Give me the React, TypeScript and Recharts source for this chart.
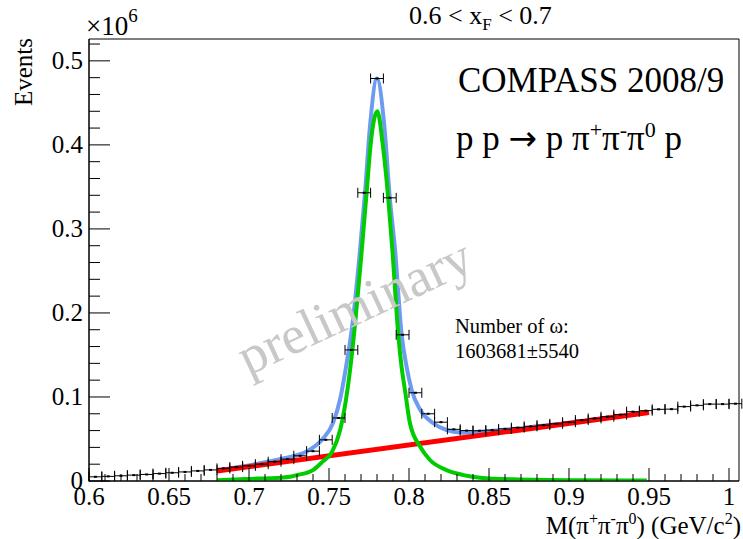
import React from 'react';
import { ComposedChart, XAxis, YAxis, Line, Scatter, ErrorBar, ReferenceArea } from 'recharts';

// Histogram: bin centres (GeV/c^2) and events (in units of 10^6)
const binCenters = [
  0.604, 0.612, 0.620, 0.628, 0.636, 0.644, 0.652, 0.660, 0.668, 0.676,
  0.684, 0.692, 0.700, 0.708, 0.716, 0.724, 0.732, 0.740, 0.748, 0.756,
  0.764, 0.772, 0.780, 0.788, 0.796, 0.804, 0.812, 0.820, 0.828, 0.836,
  0.844, 0.852, 0.860, 0.868, 0.876, 0.884, 0.892, 0.900, 0.908, 0.916,
  0.924, 0.932, 0.940, 0.948, 0.956, 0.964, 0.972, 0.980, 0.988, 0.996,
  1.004,
];
const eventCounts = [
  0.0050, 0.0055, 0.0062, 0.0070, 0.0078, 0.0088, 0.0098, 0.0108, 0.0120, 0.0132,
  0.0150, 0.0165, 0.0180, 0.0200, 0.0230, 0.0260, 0.0300, 0.0355, 0.0490, 0.0750,
  0.1560, 0.3430, 0.4790, 0.3370, 0.1740, 0.1050, 0.0800, 0.0700, 0.0615, 0.0600,
  0.0598, 0.0605, 0.0620, 0.0635, 0.0650, 0.0665, 0.0680, 0.0700, 0.0725, 0.0745,
  0.0765, 0.0790, 0.0825, 0.0837, 0.0853, 0.0855, 0.0885, 0.0900, 0.0915, 0.0915,
  0.0920,
];
const binHalfWidth = 0.004;

// Total fit (blue)
const totalFitX = [
  0.680, 0.698, 0.7194, 0.7256, 0.736, 0.746, 0.7525, 0.7569, 0.761, 0.7642,
  0.7694, 0.7725, 0.7756, 0.780, 0.7846, 0.788, 0.7913, 0.7954, 0.7986, 0.8017,
  0.8069, 0.8152, 0.8235, 0.834, 0.8444, 0.8631, 0.8819, 0.8985, 0.925, 0.950,
];
const totalFitY = [
  0.013, 0.018, 0.026, 0.0286, 0.035, 0.050, 0.069, 0.097, 0.140, 0.180,
  0.275, 0.343, 0.422, 0.479, 0.422, 0.337, 0.275, 0.174, 0.135, 0.108,
  0.085, 0.0687, 0.0607, 0.0575, 0.0587, 0.0615, 0.0655, 0.0687, 0.0755, 0.0820,
];

// Signal fit (green)
const signalFitX = [
  0.680, 0.698, 0.720, 0.7256, 0.730, 0.740, 0.746, 0.752, 0.757, 0.7615,
  0.7646, 0.7705, 0.7735, 0.7761, 0.7802, 0.7835, 0.787, 0.7896, 0.7933, 0.7954,
  0.7975, 0.8006, 0.8069, 0.8131, 0.8235, 0.834, 0.8444, 0.865, 0.907, 0.9486,
];
const signalFitY = [
  0.0010, 0.0024, 0.0040, 0.0050, 0.0070, 0.0130, 0.0230, 0.0350, 0.0610, 0.1080,
  0.1560, 0.2750, 0.3430, 0.4020, 0.4400, 0.4020, 0.3370, 0.2750, 0.1740, 0.1350,
  0.1080, 0.0687, 0.0410, 0.0250, 0.0130, 0.0070, 0.0040, 0.0020, 0.0008, 0.0005,
];

// Background fit (red)
const bgFitX = [0.68, 0.95];
const bgFitY = [0.0119, 0.0815];

const xTicks = [
  0.6, 0.61, 0.62, 0.63, 0.64, 0.65, 0.66, 0.67, 0.68, 0.69,
  0.7, 0.71, 0.72, 0.73, 0.74, 0.75, 0.76, 0.77, 0.78, 0.79,
  0.8, 0.81, 0.82, 0.83, 0.84, 0.85, 0.86, 0.87, 0.88, 0.89,
  0.9, 0.91, 0.92, 0.93, 0.94, 0.95, 0.96, 0.97, 0.98, 0.99, 1.0,
];
const yTicks = [
  0, 0.02, 0.04, 0.06, 0.08, 0.1, 0.12, 0.14, 0.16, 0.18,
  0.2, 0.22, 0.24, 0.26, 0.28, 0.3, 0.32, 0.34, 0.36, 0.38,
  0.4, 0.42, 0.44, 0.46, 0.48, 0.5, 0.52,
];
const xDomain = [0.6, 1.00625];
const yDomain = [0, 0.526];

const points = binCenters.map((x, i) => ({ x, y: eventCounts[i], xErr: binHalfWidth }));
const totalFit = totalFitX.map((x, i) => ({ x, y: totalFitY[i] }));
const signalFit = signalFitX.map((x, i) => ({ x, y: signalFitY[i] }));
const bgFit = bgFitX.map((x, i) => ({ x, y: bgFitY[i] }));

const FONT = '"Liberation Serif", "Times New Roman", Times, serif';

const XTick = (props: any) => {
  const { x, y, payload } = props;
  const v = payload.value as number;
  const major = Math.abs(v * 20 - Math.round(v * 20)) < 1e-6;
  const label = parseFloat(v.toFixed(2)).toString();
  return (
    <g>
      <line x1={x} x2={x} y1={y} y2={y - (major ? 13 : 7)} stroke="#000" strokeWidth={1} />
      {major && (
        <text x={x} y={y + 24} textAnchor="middle" fontSize={25} fontFamily={FONT} fill="#000">
          {label}
        </text>
      )}
    </g>
  );
};

const YTick = (props: any) => {
  const { x, y, payload } = props;
  const v = payload.value as number;
  const major = Math.abs(v * 10 - Math.round(v * 10)) < 1e-6;
  const label = parseFloat(v.toFixed(1)).toString();
  return (
    <g>
      <line x1={x} x2={x + (major ? 21 : 11)} y1={y} y2={y} stroke="#000" strokeWidth={1} />
      {major && (
        <text x={x - 6} y={y + 8} textAnchor="end" fontSize={25} fontFamily={FONT} fill="#000">
          {label}
        </text>
      )}
    </g>
  );
};

const PointShape = (props: any) => {
  const { cx, cy } = props;
  if (cx == null || cy == null) return null;
  return <rect x={cx - 1.5} y={cy - 1} width={3} height={2} fill="#000" />;
};

export default function App() {
  return (
    <div style={{ position: 'absolute', left: 0, top: 0, width: 743, height: 539, background: '#fff' }}>
      <ComposedChart width={743} height={539} margin={{ top: 39, right: 4, bottom: 0, left: 0 }}>
        <XAxis
          type="number"
          dataKey="x"
          domain={xDomain}
          allowDataOverflow
          ticks={xTicks}
          interval={0}
          tickSize={0}
          tickMargin={0}
          tickLine={false}
          tick={<XTick />}
          height={58}
          axisLine={{ stroke: '#000', strokeWidth: 1 }}
        />
        <YAxis
          type="number"
          domain={yDomain}
          allowDataOverflow
          ticks={yTicks}
          interval={0}
          tickSize={0}
          tickMargin={0}
          tickLine={false}
          tick={<YTick />}
          width={89}
          axisLine={{ stroke: '#000', strokeWidth: 1 }}
        />
        <ReferenceArea
          x1={xDomain[0]}
          x2={xDomain[1]}
          y1={yDomain[0]}
          y2={yDomain[1]}
          fill="none"
          stroke="#000"
          strokeWidth={1}
          ifOverflow="visible"
        />
        <Line data={totalFit} dataKey="y" type="monotone" stroke="#6d9bf1" strokeWidth={4} dot={false} isAnimationActive={false} />
        <Line data={bgFit} dataKey="y" type="linear" stroke="#ff0000" strokeWidth={5} dot={false} isAnimationActive={false} />
        <Line data={signalFit} dataKey="y" type="monotone" stroke="#00cc00" strokeWidth={4} dot={false} isAnimationActive={false} />
        <Scatter data={points} dataKey="y" shape={<PointShape />} isAnimationActive={false}>
          <ErrorBar dataKey="xErr" direction="x" width={5} stroke="#000" strokeWidth={1} isAnimationActive={false} />
        </Scatter>
      </ComposedChart>
      <svg
        width={743}
        height={539}
        style={{ position: 'absolute', left: 0, top: 0, pointerEvents: 'none' }}
        fontFamily={FONT}
      >
        <text x={86} y={35} fontSize={27} fill="#000">
          ×10<tspan dy={-13} fontSize={19}>6</tspan>
        </text>
        <text transform="translate(32,38) rotate(-90)" textAnchor="end" fontSize={25} fill="#000">
          Events
        </text>
        <text x={409} y={24} fontSize={26} fill="#000">
          0.6 &lt; x<tspan dy={6} fontSize={17}>F</tspan><tspan dy={-6}> &lt; 0.7</tspan>
        </text>
        <text x={458} y={92} fontSize={35} fill="#000">COMPASS 2008/9</text>
        <text x={456} y={150} fontSize={35} fill="#000">
          p p <tspan fontFamily='"DejaVu Sans", sans-serif' fontSize={34}>→</tspan> p π<tspan dy={-13} fontSize={22}>+</tspan>
          <tspan dy={13}>π</tspan><tspan dy={-13} fontSize={22}>-</tspan>
          <tspan dy={13}>π</tspan><tspan dy={-13} fontSize={22}>0</tspan>
          <tspan dy={13}> p</tspan>
        </text>
        <text transform="translate(248,376) rotate(-25)" fontSize={54} fill="#c8c8c8">
          preliminary
        </text>
        <text x={455} y={333} fontSize={20.5} fill="#000">Number of  ω:</text>
        <text x={455} y={358} fontSize={20.5} fill="#000">1603681±5540</text>
        <text x={741} y={534} textAnchor="end" fontSize={25} fill="#000">
          M(π<tspan dy={-10} fontSize={16}>+</tspan>
          <tspan dy={10}>π</tspan><tspan dy={-10} fontSize={16}>-</tspan>
          <tspan dy={10}>π</tspan><tspan dy={-10} fontSize={16}>0</tspan>
          <tspan dy={10}>) (GeV/c</tspan><tspan dy={-10} fontSize={16}>2</tspan>
          <tspan dy={10}>)</tspan>
        </text>
      </svg>
    </div>
  );
}
